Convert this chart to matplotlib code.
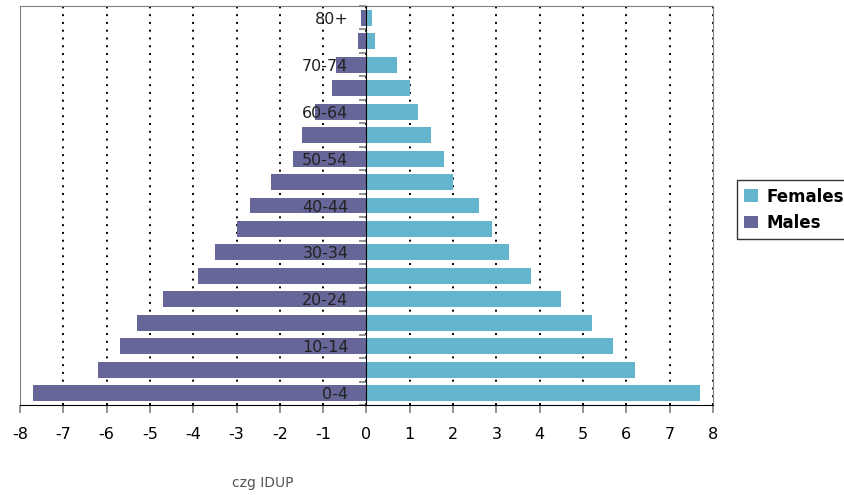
import matplotlib
matplotlib.use("Agg")
import matplotlib.pyplot as plt
from matplotlib.patches import Patch
import numpy as np

age_groups = ["0-4", "5-9", "10-14", "15-19", "20-24", "25-29", "30-34", "35-39",
              "40-44", "45-49", "50-54", "55-59", "60-64", "65-69", "70-74", "75-79", "80+"]
males = [-7.7, -6.2, -5.7, -5.3, -4.7, -3.9, -3.5, -3.0, -2.7, -2.2, -1.7, -1.5,
         -1.2, -0.8, -0.7, -0.2, -0.12]
females = [7.7, 6.2, 5.7, 5.2, 4.5, 3.8, 3.3, 2.9, 2.6, 2.0, 1.8, 1.5, 1.2, 1.0,
           0.7, 0.2, 0.12]
x_ticks = list(range(-8, 9))

male_color = "#666699"
female_color = "#62B5CC"
grey = "#808080"

fig = plt.figure(figsize=(8.45, 4.95), dpi=100)
ax = fig.add_axes([20/845, 1-405/495, (713-20)/845, (405-6)/495])

y = np.arange(len(age_groups))
ax.barh(y, males, height=0.68, color=male_color, zorder=1)
ax.barh(y, females, height=0.68, color=female_color, zorder=1)

for xv in x_ticks:
    ax.axvline(xv, color="black", linestyle=(0, (1, 3)), linewidth=1.4, zorder=0)

ax.set_xlim(-8, 8)
ax.set_ylim(-0.5, len(age_groups) - 0.5)

ax.set_xticks(x_ticks)
ax.set_xticklabels([str(v) for v in x_ticks], fontsize=11.5)
ax.tick_params(axis="x", direction="out", length=6, color=grey, width=1.2, pad=10)

ax.spines["left"].set_position(("data", 0))
ax.spines["left"].set_color("black")
ax.spines["left"].set_zorder(3)
ax.spines["bottom"].set_color("black")
for s in ["top", "right"]:
    ax.spines[s].set_color(grey)
ax.axvline(-8, color=grey, linewidth=1.5, zorder=0.5)

ax.set_yticks(np.arange(-0.5, len(age_groups) - 0.5 + 0.01, 1.0))
ax.set_yticklabels([])
ax.tick_params(axis="y", which="major", direction="out", length=5, color=grey, width=1.2)
ax.set_yticks(y, minor=True)
ax.set_yticklabels([g if i % 2 == 0 else "" for i, g in enumerate(age_groups)], minor=True,
                   fontsize=11.5, color="#222222")
ax.tick_params(axis="y", which="minor", length=0, pad=13)

handles = [Patch(facecolor=female_color, edgecolor="none"),
           Patch(facecolor=male_color, edgecolor="none")]
leg = fig.legend(handles, ["Females", "Males"], loc="upper left",
                 bbox_to_anchor=(737/845, 1-180/495), frameon=True, fancybox=False,
                 prop={"weight": "bold", "size": 12}, handlelength=0.8, handleheight=0.8,
                 handletextpad=0.5, borderpad=0.45, labelspacing=0.5, borderaxespad=0)
leg.get_frame().set_edgecolor("black")
leg.get_frame().set_linewidth(1.0)

fig.text(263/845, 1-483/495, "czg IDUP", ha="center", va="center", fontsize=10, color="#555555")

fig.savefig("out.png", dpi=100)
